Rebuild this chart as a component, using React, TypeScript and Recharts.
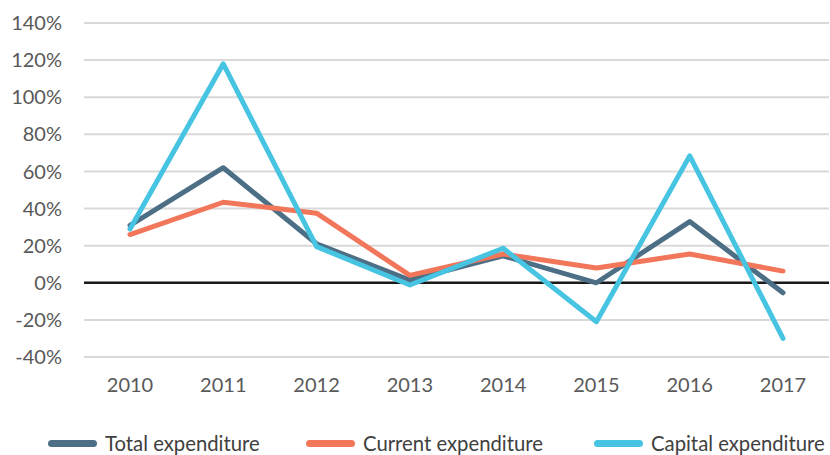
import { LineChart, Line, XAxis, YAxis, CartesianGrid, ReferenceLine } from "recharts";

const years = ["2010", "2011", "2012", "2013", "2014", "2015", "2016", "2017"];
const totalExpenditure = [31, 62, 21, 1.5, 14.5, 0, 33, -5.4];
const currentExpenditure = [26, 43.4, 37.5, 4, 15.5, 8, 15.5, 6.3];
const capitalExpenditure = [29, 118, 19.5, -1.2, 18.6, -21, 68.4, -30];
const yTicks = [-40, -20, 0, 20, 40, 60, 80, 100, 120, 140];

const series = [
  { key: "total", name: "Total expenditure", color: "#4d6f86", values: totalExpenditure },
  { key: "current", name: "Current expenditure", color: "#f2765a", values: currentExpenditure },
  { key: "capital", name: "Capital expenditure", color: "#46c4e1", values: capitalExpenditure },
];

const data = years.map((year, i) => ({
  year,
  total: totalExpenditure[i],
  current: currentExpenditure[i],
  capital: capitalExpenditure[i],
}));

const font = "Lato, 'Open Sans', sans-serif";

export default function App() {
  return (
    <div style={{ position: "absolute", left: 0, top: 0, width: 830, height: 455, overflow: "hidden", fontFamily: font }}>
      <LineChart width={830} height={455} data={data} margin={{ top: 23, right: 1, left: 0, bottom: 68 }}>
        <CartesianGrid vertical={false} stroke="#d9d9d9" strokeWidth={2} />
        <XAxis
          dataKey="year"
          axisLine={false}
          tickLine={false}
          tickSize={0}
          tickMargin={21}
          height={30}
          padding={{ left: 46, right: 46 }}
          tick={{ fill: "#595959", fontSize: 20, fontFamily: font }}
        />
        <YAxis
          domain={[-40, 140]}
          ticks={yTicks}
          axisLine={false}
          tickLine={false}
          tickSize={0}
          tickMargin={22}
          width={84}
          tickFormatter={(v: number) => `${v}%`}
          tick={{ fill: "#595959", fontSize: 20, fontFamily: font }}
        />
        <ReferenceLine y={0} stroke="#1a1a1a" strokeWidth={2.5} />
        {series.map((s) => (
          <Line
            key={s.key}
            type="linear"
            dataKey={s.key}
            name={s.name}
            stroke={s.color}
            strokeWidth={5}
            strokeLinecap="round"
            strokeLinejoin="round"
            dot={false}
            activeDot={false}
            isAnimationActive={false}
          />
        ))}
      </LineChart>
      <div style={{ position: "absolute", left: 0, top: 431, height: 28, width: 830 }}>
        {series.map((s, i) => (
          <div
            key={s.key}
            style={{
              position: "absolute",
              left: [48, 306, 594][i],
              top: 0,
              display: "flex",
              alignItems: "center",
              whiteSpace: "nowrap",
            }}
          >
            <span style={{ display: "inline-block", width: 49, height: 7, borderRadius: 4, background: s.color, marginRight: 8 }} />
            <span style={{ fontSize: 20.3, color: "#404040" }}>{s.name}</span>
          </div>
        ))}
      </div>
    </div>
  );
}
